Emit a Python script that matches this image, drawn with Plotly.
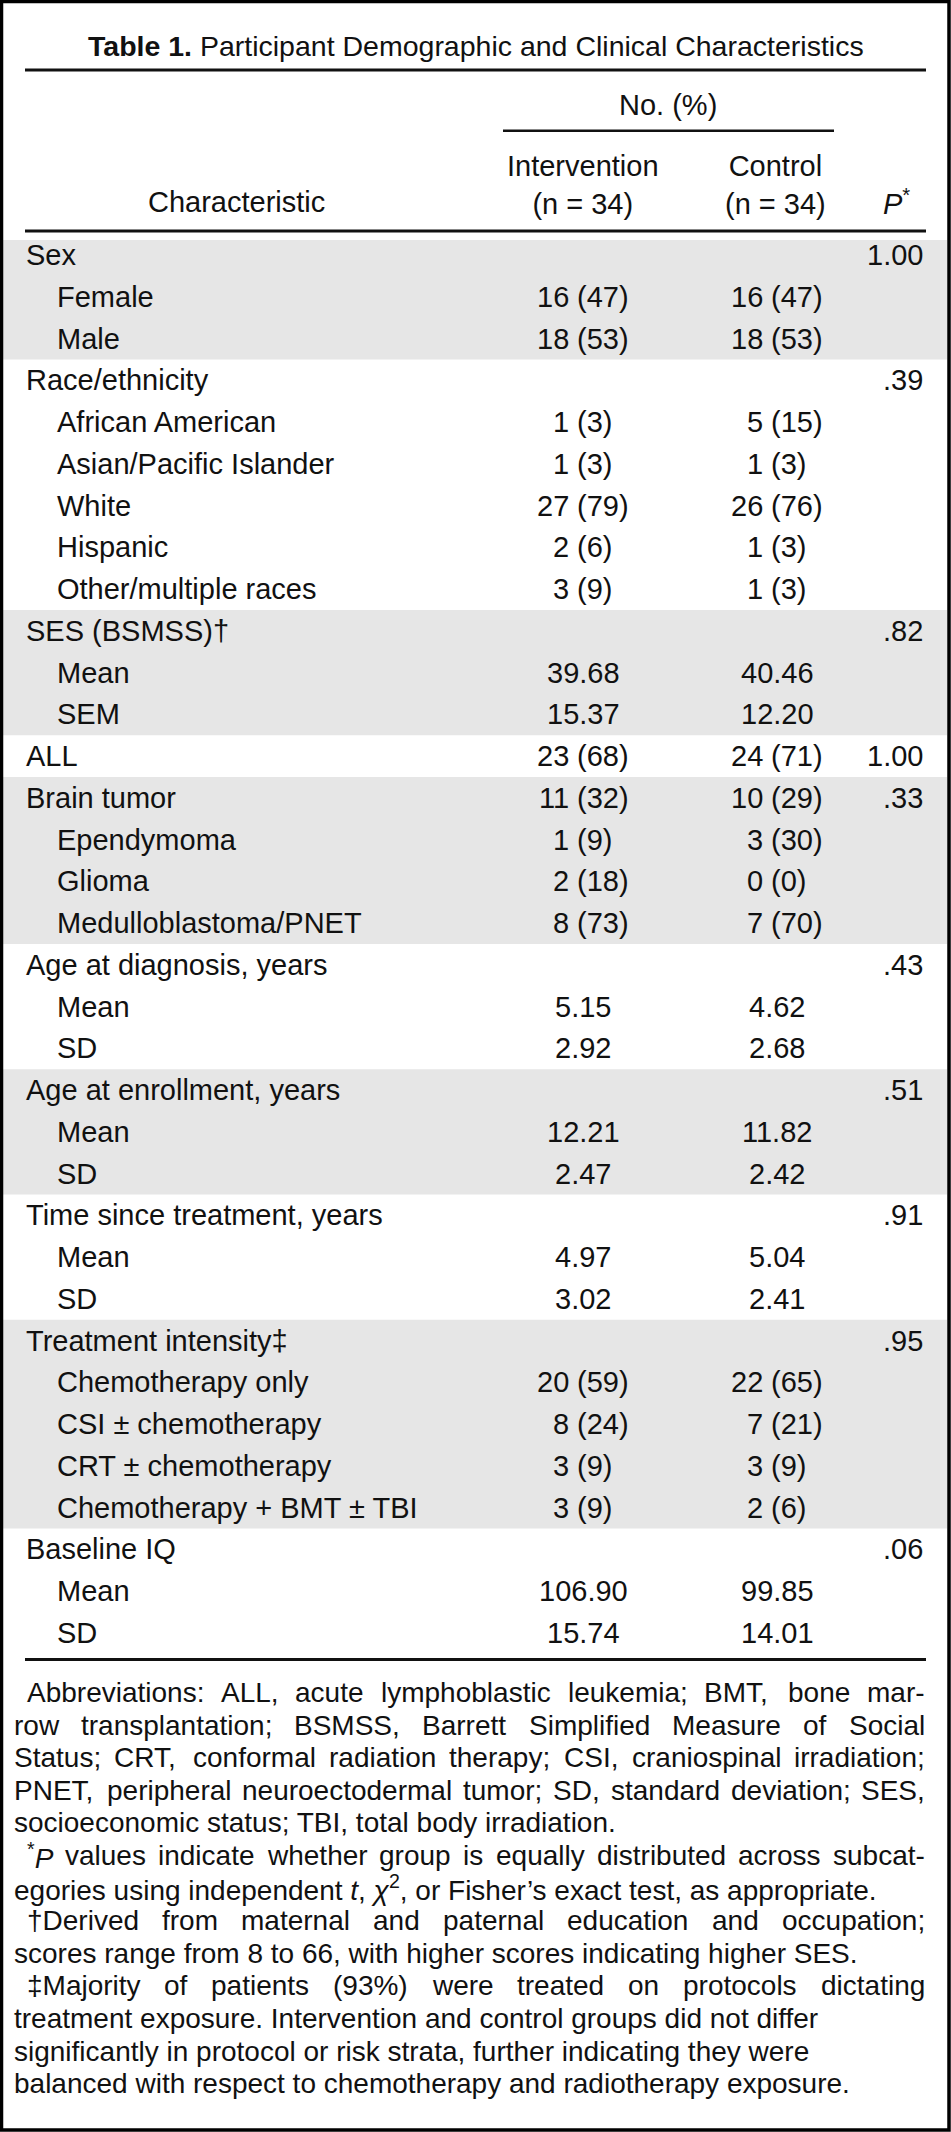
import re
import plotly.graph_objects as go

# ---------------------------------------------------------------- data
title_bold = "Table 1."
title_rest = "Participant Demographic and Clinical Characteristics"
spanner_label = "No. (%)"
column_names = ["Intervention", "Control"]
column_ns = ["(n = 34)", "(n = 34)"]
stub_header = "Characteristic"
p_header = "<i>P</i><sup>*</sup>"

group_labels = ["Sex", "Race/ethnicity", "SES (BSMSS)†", "ALL", "Brain tumor",
                "Age at diagnosis, years", "Age at enrollment, years",
                "Time since treatment, years", "Treatment intensity‡", "Baseline IQ"]
group_intervention = ["", "", "", "23 (68)", "11 (32)", "", "", "", "", ""]
group_control = ["", "", "", "24 (71)", "10 (29)", "", "", "", "", ""]
group_p = ["1.00", ".39", ".82", "1.00", ".33", ".43", ".51", ".91", ".95", ".06"]

sub_labels = [
    ["Female", "Male"],
    ["African American", "Asian/Pacific Islander", "White", "Hispanic", "Other/multiple races"],
    ["Mean", "SEM"],
    [],
    ["Ependymoma", "Glioma", "Medulloblastoma/PNET"],
    ["Mean", "SD"],
    ["Mean", "SD"],
    ["Mean", "SD"],
    ["Chemotherapy only", "CSI ± chemotherapy", "CRT ± chemotherapy", "Chemotherapy + BMT ± TBI"],
    ["Mean", "SD"],
]
sub_intervention = [
    ["16 (47)", "18 (53)"],
    ["1 (3)", "1 (3)", "27 (79)", "2 (6)", "3 (9)"],
    ["39.68", "15.37"],
    [],
    ["1 (9)", "2 (18)", "8 (73)"],
    ["5.15", "2.92"],
    ["12.21", "2.47"],
    ["4.97", "3.02"],
    ["20 (59)", "8 (24)", "3 (9)", "3 (9)"],
    ["106.90", "15.74"],
]
sub_control = [
    ["16 (47)", "18 (53)"],
    ["5 (15)", "1 (3)", "26 (76)", "1 (3)", "1 (3)"],
    ["40.46", "12.20"],
    [],
    ["3 (30)", "0 (0)", "7 (70)"],
    ["4.62", "2.68"],
    ["11.82", "2.42"],
    ["5.04", "2.41"],
    ["22 (65)", "7 (21)", "3 (9)", "2 (6)"],
    ["99.85", "14.01"],
]

footnote_paragraphs = [
    ["Abbreviations: ALL, acute lymphoblastic leukemia; BMT, bone mar-",
     "row transplantation; BSMSS, Barrett Simplified Measure of Social",
     "Status; CRT, conformal radiation therapy; CSI, craniospinal irradiation;",
     "PNET, peripheral neuroectodermal tumor; SD, standard deviation; SES,",
     "socioeconomic status; TBI, total body irradiation."],
    ["<sup>*</sup><i>P</i> values indicate whether group is equally distributed across subcat-",
     "egories using independent <i>t</i>, <i>χ</i><sup>2</sup>, or Fisher’s exact test, as appropriate."],
    ["†Derived from maternal and paternal education and occupation;",
     "scores range from 8 to 66, with higher scores indicating higher SES."],
    ["‡Majority of patients (93%) were treated on protocols dictating",
     "treatment exposure. Intervention and control groups did not differ",
     "significantly in protocol or risk strata, further indicating they were",
     "balanced with respect to chemotherapy and radiotherapy exposure."],
]

# ---------------------------------------------------------------- style / layout
W, H = 951, 2132
FONT = "Liberation Sans, Arial, Helvetica, sans-serif"
INK = "#111111"
SHADE = "#e6e6e6"
BODY = 29
NOTE = 28
TITLE = 28.5

RULE_X0, RULE_X1 = 25, 926
TITLE_X, TITLE_Y = 475.5, 45.5
TOP_RULE_Y = 70
SPAN_X, SPAN_Y = 668, 105
SPAN_RULE_Y, SPAN_RULE_X0, SPAN_RULE_X1 = 130.7, 503, 834
COLHEAD_Y = 185          # centre of the two-line column heading
LAST_HEAD_LINE_Y = 202   # baseline row of the heading ("Characteristic", P*)
COL_CENTERS = [583, 777]
COL_HEADER_CENTERS = [583, 775]
STUB_X = 236
P_RIGHT = 923
P_HEADER_RIGHT = 910
HEAD_RULE_Y = 231
HEADER_BOTTOM = 240
ROW0_Y, PITCH = 255, 41.75
X_GROUP, X_SUB = 26, 57
BOTTOM_RULE_Y = 1659.5
NOTE_Y0, NOTE_PITCH = 1692.5, 32.6
NOTE_LEFT, NOTE_INDENT, NOTE_RIGHT = 13.5, 26.5, 925
justified_lines_per_paragraph = [4, 1, 1, 1]

# Liberation Sans (Arial-metric) advance widths, per 1000 em
AFM = {}


def _set(chars, w):
    for c in chars:
        AFM[c] = w


_set("ijl’", 222)
_set(" !,./:;I[]\\ft", 278)
_set("r()-`", 333)
_set("*", 389)
_set("cksvxyzJ", 500)
_set("abdeghnopqu0123456789$_?†‡L#", 556)
_set("+<=>±", 584)
_set("FTZ", 611)
_set("ABEKPSVXY&", 667)
_set("CDHNRUw", 722)
_set("GOQ", 778)
_set("mM", 833)
_set("%", 889)
_set("W", 944)
AFM["'"] = 191
AFM["χ"] = 547


def text_width(s, size):
    w = 0.0
    scale = 1.0
    for tok in re.split(r"(<[^>]+>)", s):
        if tok.startswith("<"):
            if tok == "<sup>":
                scale = 0.7
            elif tok == "</sup>":
                scale = 1.0
            continue
        for ch in tok:
            w += AFM.get(ch, 556) * scale
    return w * size / 1000.0


annotations = []
shapes = []


def add_text(text, x, y, anchor="left", size=BODY, family=FONT):
    annotations.append(dict(
        text=text, x=x, y=y, xref="x", yref="y", xanchor=anchor, yanchor="middle",
        showarrow=False, borderpad=0, borderwidth=0, align="center",
        font=dict(family=family, size=size, color=INK),
    ))


def add_rule(y, x0, x1, width):
    shapes.append(dict(type="line", xref="x", yref="y", x0=x0, x1=x1, y0=y, y1=y,
                       line=dict(color=INK, width=width), layer="above"))


def row_y(i):
    return ROW0_Y + i * PITCH


# ---------------------------------------------------------------- header
add_text("<b>" + title_bold + "</b> " + title_rest, TITLE_X, TITLE_Y, "center", TITLE)
add_rule(TOP_RULE_Y, RULE_X0, RULE_X1, 3)
add_text(spanner_label, SPAN_X, SPAN_Y, "center")
add_rule(SPAN_RULE_Y, SPAN_RULE_X0, SPAN_RULE_X1, 2.5)
for c in range(len(column_names)):
    add_text(column_names[c] + "<br>" + column_ns[c], COL_HEADER_CENTERS[c], COLHEAD_Y, "center")
add_text(stub_header, STUB_X, LAST_HEAD_LINE_Y, "center")
add_text(p_header, P_HEADER_RIGHT, LAST_HEAD_LINE_Y, "right")
add_rule(HEAD_RULE_Y, RULE_X0, RULE_X1, 3)

# ---------------------------------------------------------------- body
columns_values = [
    group_intervention + [v for grp in sub_intervention for v in grp],
    group_control + [v for grp in sub_control for v in grp],
]
SPACE = text_width(" ", BODY)


def col_anchor(values, center):
    pairs = [v.split(" (") for v in values if " (" in v]
    mc = max(text_width(p[0], BODY) for p in pairs)
    mr = max(text_width("(" + p[1], BODY) for p in pairs)
    return center - (mc + SPACE + mr) / 2 + mc


anchors = [col_anchor(columns_values[c], COL_CENTERS[c]) for c in range(2)]


def add_value(value, c, y):
    if not value:
        return
    if " (" in value:
        count, rest = value.split(" (", 1)
        add_text(count, anchors[c], y, "right")
        add_text("(" + rest, anchors[c] + SPACE, y, "left")
    else:
        add_text(value, COL_CENTERS[c], y, "center")


row = 0
shaded = True
for g in range(len(group_labels)):
    n_rows = 1 + len(sub_labels[g])
    if shaded:
        top = max(HEADER_BOTTOM, row_y(row) - PITCH / 2)
        bottom = row_y(row + n_rows - 1) + PITCH / 2
        shapes.append(dict(type="rect", xref="x", yref="y", x0=3, x1=947, y0=top, y1=bottom,
                           fillcolor=SHADE, line=dict(width=0), layer="below"))
    y = row_y(row)
    add_text(group_labels[g], X_GROUP, y, "left")
    add_value(group_intervention[g], 0, y)
    add_value(group_control[g], 1, y)
    if group_p[g]:
        add_text(group_p[g], P_RIGHT, y, "right")
    row += 1
    for s in range(len(sub_labels[g])):
        y = row_y(row)
        add_text(sub_labels[g][s], X_SUB, y, "left")
        add_value(sub_intervention[g][s], 0, y)
        add_value(sub_control[g][s], 1, y)
        row += 1
    shaded = not shaded

add_rule(BOTTOM_RULE_Y, RULE_X0, RULE_X1, 3)

# ---------------------------------------------------------------- footnotes
line_no = 0
for p, para in enumerate(footnote_paragraphs):
    for k, line in enumerate(para):
        y = NOTE_Y0 + line_no * NOTE_PITCH
        x_start = NOTE_INDENT if k == 0 else NOTE_LEFT
        if k < justified_lines_per_paragraph[p]:
            words = line.split(" ")
            widths = [text_width(wd, NOTE) for wd in words]
            gap = (NOTE_RIGHT - x_start - sum(widths)) / (len(words) - 1)
            x = x_start
            for wd, wdw in zip(words, widths):
                add_text(wd, x, y, "left", NOTE)
                x += wdw + gap
        else:
            add_text(line, x_start, y, "left", NOTE)
        line_no += 1

# outer frame
shapes.append(dict(type="rect", xref="x", yref="y", x0=1.5, x1=949, y0=1.5, y1=2130,
                   line=dict(color="#000000", width=3.5), fillcolor="rgba(0,0,0,0)", layer="above"))

fig = go.Figure(go.Scatter(x=[], y=[], mode="markers", hoverinfo="skip", showlegend=False))
fig.update_layout(
    width=W, height=H, margin=dict(l=0, r=0, t=0, b=0),
    paper_bgcolor="white", plot_bgcolor="white",
    xaxis=dict(range=[0, W], visible=False, fixedrange=True),
    yaxis=dict(range=[H, 0], visible=False, fixedrange=True),
    annotations=annotations, shapes=shapes, showlegend=False,
)
fig.write_html("out.html", config=dict(displayModeBar=False, staticPlot=True),
               post_script="document.body.style.margin='0';document.body.style.overflow='hidden';")
